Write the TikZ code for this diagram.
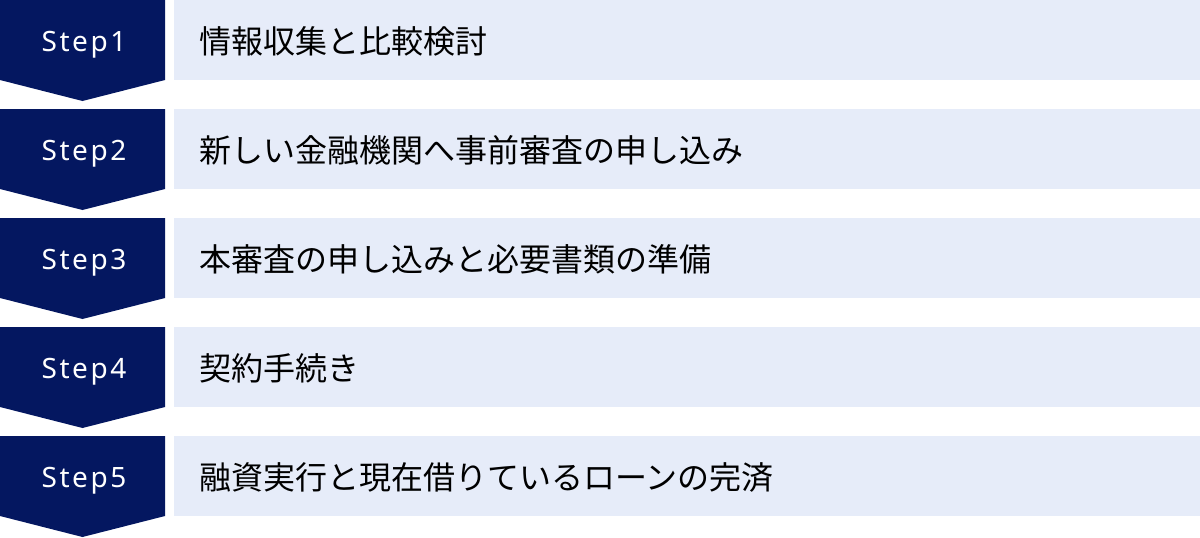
\documentclass[tikz,border=0pt]{standalone}
\usepackage{fontspec}
\setmainfont{Noto Sans}
\newfontfamily\jpfont{Noto Sans CJK JP}
\definecolor{navy}{RGB}{4,23,96}
\definecolor{lightbg}{RGB}{230,236,249}
\tikzset{
  stepshape/.style={fill=navy,draw=none},
  rowbox/.style={fill=lightbg,draw=none},
  steplabel/.style={text=white,font=\fontsize{28}{30}\selectfont\addfontfeatures{LetterSpace=9},inner sep=0pt,anchor=base},
  rowtext/.style={text=black,font=\jpfont\fontsize{32}{34}\selectfont,inner sep=0pt,anchor=base west}
}
\begin{document}
\begin{tikzpicture}[x=1pt,y=-1pt]
\useasboundingbox (0,0) rectangle (1200,538);
\foreach \i/\txt in {1/情報収集と比較検討,2/新しい金融機関へ事前審査の申し込み,3/本審査の申し込みと必要書類の準備,4/契約手続き,5/融資実行と現在借りているローンの完済}{
  \pgfmathsetmacro{\yy}{(\i-1)*109}
  \begin{scope}[shift={(0,\yy)}]
    \fill[stepshape] (0,0) -- (165,0) -- (165,80) -- (82.5,101) -- (0,80) -- cycle;
    \fill[rowbox] (174,0) rectangle (1200,80);
    \node[steplabel] (step\i) at (84,51) {Step\i};
    \node[rowtext] (text\i) at (199,53) {\txt};
  \end{scope}
}
\end{tikzpicture}
\end{document}
